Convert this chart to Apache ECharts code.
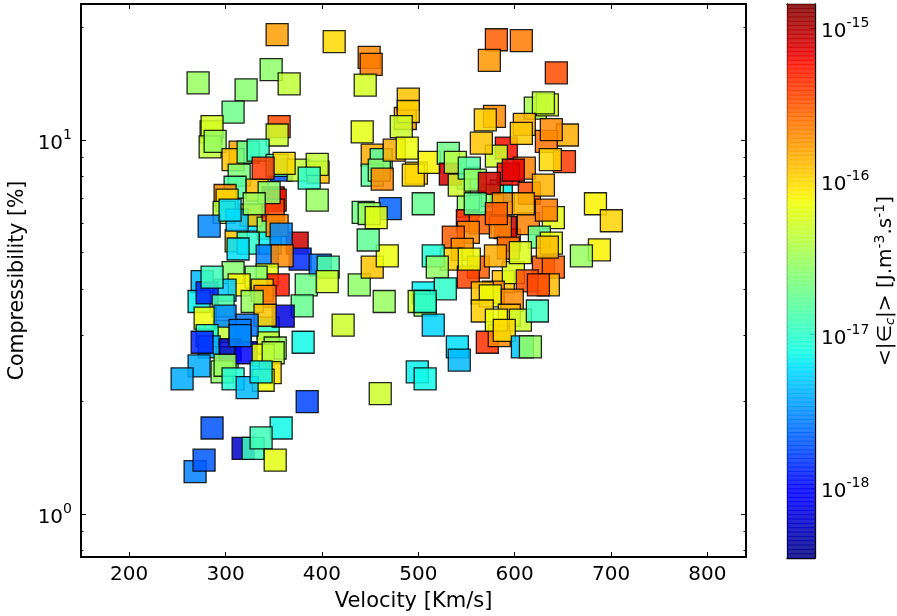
<!DOCTYPE html>
<html><head><meta charset="utf-8">
<style>html,body{margin:0;padding:0;background:#fff}#c{width:897px;height:616px}</style>
<script src="https://cdn.jsdelivr.net/npm/echarts@6/dist/echarts.min.js"></script>
</head><body><div id="c"></div>
<script>
const velocity = [
353.5,412.7,449,451.1,444.9,271.5,347.3,366,321.3,307.8,581,606.9,573.7,643.2,
621.4,633.9,629.8,486.5,489.6,489.6,482.3,441.8,355.6,353.5,285,286,284,289.2,
315.1,307.8,323.4,333.8,357.7,353.5,375.3,396,395.1,360.8,386.8,395.1,
332.8,332.8,326.5,344.2,311,346.3,
314.1,309.9,299.5,301.6,332.8,349.4,351.5,349.4,298.5,312,283,339,345.2,329.7,304.7,
374.3,377.4,353.5,357.7,323.4,313,343.2,358.7,398.2,406.5,
307.8,343.2,354.6,331.7,314.1,383.7,405.5,438.7,452.2,467.8,448,464.6,
299.5,338,298.5,301.6,344.2,344.2,351.5,
275.7,272.5,280.9,286,297.5,341,327.6,379.5,359.8,341,278.8,299.5,
322.4,315.1,422,280.9,283,275.7,380.5,304.7,321.3,339,349.4,315.1,
272.5,296.4,299.5,254.9,346.3,339,307.8,322.4,336.9,
384.7,460.5,286,357.7,318.2,328.6,336.9,351.5,268.4,277.7,
586.1,576.8,551.9,551.9,
452.2,461.5,452.2,459.5,462.6,475,488.5,498,494.8,511.4,531.1,533.2,538.4,542.5,552.9,559.1,
579,569.5,591.3,581,565.4,610,606.9,654.7,632.9,638,651.6,637,
594.4,610,593.4,598.6,573.7,615.2,629.8,683.8,700.3,505.1,470.9,442.8,449,456.3,
550.9,564.3,551.9,536.3,590.3,585.1,593.4,614.2,559.1,588.2,581,609,640.1,632.9,
545.6,534.2,515.5,519.7,562.3,551.9,552.9,588.2,598.6,629.8,640.1,634.9,613.1,624.6,625.6,638,633.9,605.9,580,687.9,669.2,
528,505.1,500.9,507.1,507.1,515.5,540.5,542.5,498.9,507.1,
571.6,584,577.8,566.4,574.7,597.5,566.4,594.4,581,605.9,623.5,589.2,608,616.3
];
const compressibility = [
19.1,18.3,16.6,15.9,14.0,14.2,15.4,14.1,13.6,11.85,18.5,18.4,16.3,15.1,
12.15,12.4,12.55,11.4,12.85,11.9,10.85,10.5,10.85,10.3,10.5,10.85,9.57,9.9,
9.27,8.85,9.27,9.39,8.3,8.55,8.3,8.2,8.6,8.65,7.9,6.9,
6.29,6.1,6.29,5.81,5.37,5.3,
8.05,7.47,7.1,6.9,7.34,7.0,6.9,6.49,6.4,6.1,5.88,8.4,7.23,6.75,6.49,
5.3,4.8,5.9,5.6,5.3,5.11,4.9,4.9,4.63,4.57,
4.42,4.36,4.1,4.3,4.1,4.1,4.18,4.1,4.57,4.9,5.4,3.7,
3.97,3.97,3.08,2.62,3.14,2.87,2.78,
4.18,3.7,3.9,4.3,3.6,3.82,3.7,3.6,3.38,3.4,3.34,3.38,
3.2,3.1,3.2,3.0,2.8,2.88,2.88,2.75,2.7,2.66,2.7,3.0,
2.49,2.4,2.5,2.3,2.39,2.28,2.3,2.18,2.4,
2.0,2.1,1.7,1.7,1.5,1.5,1.6,1.395,1.3,1.395,
7.3,7.1,7.9,6.65,
9.1,8.85,8.05,8.3,7.85,9.39,9.5,8.15,8.05,8.7,9.2,8.1,8.7,7.57,8.4,7.8,
11.55,11.3,9.5,9.05,9.8,11,10.4,10.3,9.9,10.65,8.75,8.85,
5.4,8.4,8.1,8.3,7.65,7.2,7.57,6.75,6.08,6.75,6.55,6.4,6.35,6.2,
6.08,6.0,5.66,5.5,5.83,5.85,5.14,5.97,6.75,6.75,6.35,6.75,6.2,6.49,
5.1,4.8,4.9,4.57,4.57,4.3,4.8,4.18,4.42,4.57,4.57,4.1,4.2,4.1,5.5,5.3,5.17,5.0,4.9,5.08,4.9,
4.0,3.9,3.7,3.62,3.7,3.2,2.8,2.58,2.4,2.3,
2.88,3.0,3.92,3.9,3.83,3.73,3.49,3.4,3.3,3.3,3.49,3.1,2.8,2.8
];
const energy = [
1.7e-16,1e-16,2e-16,2.3e-16,5.5e-17,3e-17,2.7e-17,4.5e-17,2.5e-17,2e-17,3e-16,2.3e-16,1.8e-16,3.5e-16,
3.5e-17,6e-17,4.5e-17,1.8e-16,1.2e-16,1.1e-16,5e-17,6.5e-17,3.5e-16,5e-17,6e-17,5.5e-17,4.5e-17,3e-17,
1.6e-16,1.2e-16,1.8e-17,1.1e-17,1.9e-18,1.5e-17,4.5e-17,1.3e-16,4.5e-17,1e-16,1e-17,3e-17,
7e-19,6e-18,1.2e-16,2.7e-17,1.2e-16,7e-18,
2.3e-17,1.5e-17,2e-16,1e-16,1.3e-16,9e-16,5.5e-16,3.8e-16,4e-17,5e-18,3e-18,4e-16,2.5e-17,3e-17,6e-18,
8e-16,1.4e-18,2e-16,3e-18,1e-17,6e-18,2.7e-18,2e-16,2.5e-18,1.5e-17,
2.5e-17,6e-17,5.5e-16,2.5e-17,8e-17,2e-17,5.5e-17,2.7e-17,1.2e-16,7e-17,1.7e-17,3e-17,
5e-18,1.1e-16,4.5e-17,1.8e-17,1e-17,5e-17,3e-17,
4.5e-18,7e-18,1.3e-18,1.2e-17,1.4e-17,2.3e-16,3e-17,1.8e-17,7e-19,1.2e-16,7e-17,3e-18,
2.5e-18,2.7e-18,5e-17,9e-18,4e-18,1.3e-18,7.5e-18,6e-19,1e-18,7e-17,4e-17,3e-18,
4e-18,2.8e-17,3e-17,4e-18,9e-17,7e-17,9e-18,4.5e-18,7e-18,
1.7e-18,5e-17,1.9e-18,7.5e-18,6e-19,1.2e-17,1.2e-17,6.5e-17,2.8e-18,2e-18,
7e-18,3e-17,1.2e-17,3e-17,
1.5e-16,1.5e-17,1.6e-17,2.5e-17,2e-16,1.5e-16,7e-17,1.2e-16,1e-16,8e-17,2e-17,8e-16,4e-17,5e-17,1.5e-17,3e-17,
2e-16,1.1e-16,6e-16,5e-17,1.2e-16,1.4e-16,1.15e-16,1.5e-16,2.5e-16,2e-16,4e-16,1e-16,
3e-16,2.2e-16,6e-16,7e-16,8e-16,3.5e-16,1.4e-16,8e-17,1.05e-16,1.8e-17,2.2e-18,2e-17,3e-17,6.5e-17,
5e-16,3e-16,2e-16,3e-16,8e-16,2e-16,2.5e-16,2.2e-16,1.7e-17,2e-16,3e-16,1.4e-16,6.5e-17,2.3e-16,
1.9e-16,1.1e-16,9e-18,2.8e-17,3e-16,3.8e-16,7e-17,1.2e-16,6e-17,3.3e-16,3e-16,1.3e-16,3.5e-16,3.7e-16,1.8e-17,7e-17,1.3e-16,6e-17,1.5e-16,8e-17,3e-17,
1e-17,7e-18,5e-17,3e-17,9e-18,5.5e-18,6e-18,4.5e-18,7e-18,7.5e-18,
4.5e-16,2e-16,2e-16,1.2e-16,7e-17,2e-16,1.1e-16,1.3e-16,7e-17,5e-17,1.1e-17,1e-16,5e-18,3e-17
];
const xTicks = [200,300,400,500,600,700,800];
const yTicks = [1,10];
const yMinorTicks = [0.8,0.9,2,3,4,5,6,7,8,9,20];
const colorTicks = [1e-18,1e-17,1e-16,1e-15];
const xRange = [150,840], yRange = [0.769,23.05], colorRange = [3.5e-19,1.43e-15];

const FONT = '"DejaVu Sans"';
function jet(t){
  const lerp=(p)=>{for(let i=1;i<p.length;i++){if(t<=p[i][0]){const a=p[i-1],b=p[i];return a[1]+(b[1]-a[1])*(t-a[0])/(b[0]-a[0]);}}return p[p.length-1][1];};
  const r=lerp([[0,0],[.35,0],[.66,1],[.89,1],[1,.5]]);
  const g=lerp([[0,0],[.125,0],[.375,1],[.64,1],[.91,0],[1,0]]);
  const b=lerp([[0,.5],[.11,1],[.34,1],[.65,0],[1,0]]);
  return 'rgb('+[r,g,b].map(v=>Math.round(v*255)).join(',')+')';
}
const jetStops=[];for(let i=0;i<=255;i++)jetStops.push(jet(i/255));
const logMin=Math.log10(colorRange[0]),logMax=Math.log10(colorRange[1]);
const points=velocity.map((v,i)=>[v,compressibility[i],Math.log10(energy[i])]);
const BANDS=128,bands=[];
for(let i=0;i<BANDS;i++){
  const lo=logMin+(logMax-logMin)*i/BANDS,hi=logMin+(logMax-logMin)*(i+1)/BANDS;
  bands.push([Math.pow(10,lo),Math.pow(10,hi),(lo+hi)/2]);
}
const supLabel=v=>{const e=Math.round(Math.log10(v));return '{b|10}{s|'+e+'}';};
const rich={b:{fontFamily:FONT,fontSize:20,color:'#000',padding:[8,0,0,0]},s:{fontFamily:FONT,fontSize:14,color:'#000',padding:[0,0,9,0]}};
const axisLine={show:true,onZero:false,lineStyle:{color:'#000',width:2}};
const baseY={type:'log',logBase:10,min:yRange[0],max:yRange[1],gridIndex:0,axisLine,splitLine:{show:false},minorTick:{show:false},axisLabel:{show:false}};
const chart=echarts.init(document.getElementById('c'),null,{renderer:'canvas'});
chart.setOption({
  animation:false,backgroundColor:'#fff',
  grid:[{left:81,right:151,top:4,bottom:59,outerBoundsMode:'none'},{left:787,width:28,top:4,height:554,outerBoundsMode:'none'}],
  xAxis:[
   {type:'value',gridIndex:0,min:xRange[0],max:xRange[1],position:'bottom',name:'Velocity [Km/s]',nameLocation:'middle',nameGap:34,
    nameTextStyle:{fontFamily:FONT,fontSize:21,color:'#000'},axisLine,splitLine:{show:false},
    axisTick:{inside:true,length:5,lineStyle:{color:'#000',width:1},customValues:xTicks},
    axisLabel:{customValues:xTicks,fontFamily:FONT,fontSize:20,color:'#000',margin:8}},
   {type:'value',gridIndex:0,min:xRange[0],max:xRange[1],position:'top',axisLine,splitLine:{show:false},
    axisTick:{inside:true,length:5,lineStyle:{color:'#000',width:1},customValues:xTicks},axisLabel:{show:false}},
   {type:'value',gridIndex:1,min:0,max:1,axisLine:{show:true,lineStyle:{color:'#000',width:1.3}},axisTick:{show:false},axisLabel:{show:false},splitLine:{show:false}},
   {type:'value',gridIndex:1,min:0,max:1,position:'top',axisLine:{show:true,lineStyle:{color:'#000',width:1.3}},axisTick:{show:false},axisLabel:{show:false},splitLine:{show:false}}
  ],
  yAxis:[
   Object.assign({},baseY,{position:'left',name:'Compressibility [%]',nameLocation:'middle',nameGap:53,nameMoveOverlap:false,nameRotate:90,
     nameTextStyle:{fontFamily:FONT,fontSize:20.5,color:'#000'},
     axisTick:{inside:true,length:5,lineStyle:{color:'#000',width:1},customValues:yTicks},
     axisLabel:{show:true,customValues:yTicks,margin:9,formatter:supLabel,rich}}),
   Object.assign({},baseY,{position:'right',axisTick:{inside:true,length:5,lineStyle:{color:'#000',width:1},customValues:yTicks}}),
   Object.assign({},baseY,{position:'left',axisTick:{inside:true,length:2.5,lineStyle:{color:'#000',width:1},customValues:yMinorTicks}}),
   Object.assign({},baseY,{position:'right',axisTick:{inside:true,length:2.5,lineStyle:{color:'#000',width:1},customValues:yMinorTicks}}),
   {type:'log',logBase:10,gridIndex:1,min:colorRange[0],max:colorRange[1],position:'right',splitLine:{show:false},
    axisLine:{show:true,onZero:false,lineStyle:{color:'#000',width:1.3}},
    axisTick:{inside:true,length:5,lineStyle:{color:'#000',width:1},customValues:colorTicks},
    axisLabel:{customValues:colorTicks,margin:6,formatter:supLabel,rich},
    name:'{t|<|∈}{c|c}{t||> [J.m}{u|-3}{t|.s}{u|-1}{t|]}',nameLocation:'middle',nameGap:54,nameRotate:90,
    nameTextStyle:{rich:{t:{fontFamily:FONT,fontSize:20,color:'#000',padding:[6,0,0,0]},c:{fontFamily:FONT,fontStyle:'italic',fontSize:13,color:'#000',padding:[14,0,0,0]},u:{fontFamily:FONT,fontSize:14,color:'#000',padding:[0,0,6,0]}}}},
   {type:'log',logBase:10,gridIndex:1,min:colorRange[0],max:colorRange[1],position:'left',splitLine:{show:false},
    axisLine:{show:true,onZero:false,lineStyle:{color:'#000',width:1.3}},axisTick:{show:false},axisLabel:{show:false}}
  ],
  visualMap:[{type:'continuous',show:false,min:logMin,max:logMax,dimension:2,seriesIndex:[0,1],inRange:{color:jetStops}}],
  series:[
   {type:'custom',xAxisIndex:2,yAxisIndex:4,data:bands.map(b=>[b[0],b[1],b[2]]),encode:{y:[0,1]},clip:true,z:1,silent:true,
    renderItem:(params,api)=>{
      const a=api.coord([0,api.value(0)]),b=api.coord([1,api.value(1)]);
      return {type:'rect',shape:{x:a[0],y:b[1]-0.5,width:b[0]-a[0],height:a[1]-b[1]+1},style:{fill:api.visual('color'),opacity:0.85}};
    }},
   {type:'scatter',xAxisIndex:0,yAxisIndex:0,data:points,symbol:'rect',symbolSize:22,clip:true,z:2,silent:true,
    itemStyle:{opacity:0.85,borderColor:'#000',borderWidth:1.3}}
  ]
});
</script></body></html>
